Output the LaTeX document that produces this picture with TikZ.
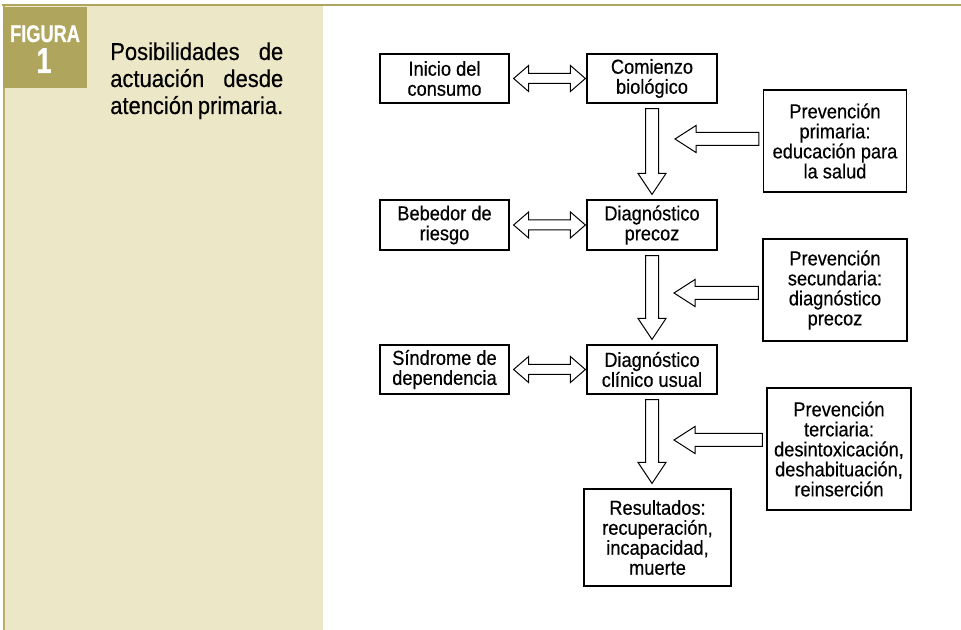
\documentclass[tikz,border=0pt]{standalone}
\usepackage{fontspec}
\usepackage{tikz}
\usetikzlibrary{calc}
\newfontfamily\textofig{Liberation Sans}[FakeStretch=0.90, FakeBold=0.4]
\newfontfamily\rotulofig{Liberation Sans}[FakeStretch=0.76, FakeBold=0.6]
\definecolor{oliva}{RGB}{176,165,92}
\definecolor{crema}{RGB}{236,231,199}
\definecolor{filete}{RGB}{184,175,98}

% flecha hueca hacia abajo: de #1 a #2
\newcommand{\flechabaja}[2]{%
  \coordinate (s) at ($(#1.south)+(0,5)$);
  \coordinate (n) at ($(#2.north)+(0,-5)$);
  \coordinate (e) at (s |- n);
  \draw[bloque] ($(s)+(-6.5,0)$) -- ($(e)+(-6.5,-21)$) -- ($(e)+(-14,-21)$) -- (e)
    -- ($(e)+(14,-21)$) -- ($(e)+(6.5,-21)$) -- ($(s)+(6.5,0)$) -- cycle;}
% flecha hueca hacia la izquierda: de la caja #1 a la punta #2
\newcommand{\flechaizq}[2]{%
  \coordinate (w) at (#2 -| #1.west);
  \coordinate (s) at ($(w)+(-4,0)$);
  \draw[bloque] ($(s)+(0,-6.5)$) -- ($(#2)+(21,-6.5)$) -- ($(#2)+(21,-13.5)$) -- (#2)
    -- ($(#2)+(21,13.5)$) -- ($(#2)+(21,6.5)$) -- ($(s)+(0,6.5)$) -- cycle;}
% flecha doble entre #1 y #2
\newcommand{\flechadoble}[2]{%
  \coordinate (s) at ($(#1.east)+(4,0)$);
  \coordinate (e) at ($(#2.west)+(-1,0)$);
  \draw[bloque] (s) -- ($(s)+(15,-13)$) -- ($(s)+(15,-5)$) -- ($(e)+(-15,-5)$)
    -- ($(e)+(-15,-13)$) -- (e) -- ($(e)+(-15,13)$) -- ($(e)+(-15,5)$)
    -- ($(s)+(15,5)$) -- ($(s)+(15,13)$) -- cycle;}

\begin{document}
\begin{tikzpicture}[x=0.75pt, y=-0.75pt,
    caja/.style={draw, rectangle, line width=0.9pt, align=center, inner sep=0pt,
      font=\textofig\fontsize{15.2pt}{15pt}\selectfont},
    bloque/.style={draw, fill=white, line width=0.75pt, line join=miter},
    panel/.style={inner sep=0pt, anchor=base west,
      font=\textofig\fontsize{18.3pt}{20.25pt}\selectfont}]
    \useasboundingbox (0,0) rectangle (961,630);
    \fill[white] (0,0) rectangle (961,630);

    % panel lateral
    \fill[crema] (5,6) rectangle (323,630);
    \fill[filete] (2.5,5) rectangle (5,630);
    \fill[oliva] (2,4) rectangle (961,6.5);
    \fill[oliva] (3,7) rectangle (87,88);
    \node[font=\rotulofig\bfseries\fontsize{18pt}{18pt}\selectfont, text=white,
      inner sep=0pt, anchor=base] (figura) at (45,42) {FIGURA};
    \node[font=\rotulofig\bfseries\fontsize{27pt}{27pt}\selectfont, text=white,
      inner sep=0pt, anchor=base] (numero) at (44,73) {1};
    \node[panel] (l1) at (110,60) {\makebox[129.75pt][s]{Posibilidades de}};
    \node[panel] (l2) at (110,87) {\makebox[129.75pt][s]{actuación desde}};
    \node[panel] (l3) at (110,114) {\makebox[129.75pt][s]{atención primaria.}};

    % columna izquierda
    \node[caja, minimum width=96.75pt, minimum height=36.75pt] (inicio) at (444.5,78.5) {Inicio del\\consumo};
    \node[caja, minimum width=96.75pt, minimum height=37.5pt] (bebedor) at (444.5,225) {Bebedor de\\riesgo};
    \node[caja, minimum width=96.75pt, minimum height=36.75pt] (sindrome) at (444.5,369.5) {Síndrome de\\dependencia};

    % columna central
    \node[caja, minimum width=97.5pt, minimum height=36.75pt] (comienzo) at (652,78.5) {Comienzo\\biológico};
    \node[caja, minimum width=97.5pt, minimum height=37.5pt] (precoz) at (652,225) {Diagnóstico\\precoz};
    \node[caja, minimum width=97.5pt, minimum height=36.75pt] (clinico) at (652,369.5) {Diagnóstico\\clínico usual};
    \node[caja, minimum width=110.25pt, minimum height=72.75pt] (resultados) at (657.5,537.5) {Resultados:\\recuperación,\\incapacidad,\\muerte};

    % prevención
    \node[caja, minimum width=107.25pt, minimum height=76.5pt] (primaria) at (835,141) {Prevención\\primaria:\\educación para\\la salud};
    \node[caja, minimum width=108pt, minimum height=76.5pt] (secundaria) at (835,290) {Prevención\\secundaria:\\diagnóstico\\precoz};
    \node[caja, minimum width=108pt, minimum height=91.5pt] (terciaria) at (839,449) {Prevención\\terciaria:\\desintoxicación,\\deshabituación,\\reinserción};

    % flechas
    \flechadoble{inicio}{comienzo}
    \flechadoble{bebedor}{precoz}
    \flechadoble{sindrome}{clinico}
    \flechabaja{comienzo}{precoz}
    \flechabaja{precoz}{clinico}
    \flechabaja{clinico}{resultados}
    \coordinate (p1) at (675,139);
    \coordinate (p2) at (674,293);
    \coordinate (p3) at (674,440);
    \flechaizq{primaria}{p1}
    \flechaizq{secundaria}{p2}
    \flechaizq{terciaria}{p3}
\end{tikzpicture}
\end{document}
